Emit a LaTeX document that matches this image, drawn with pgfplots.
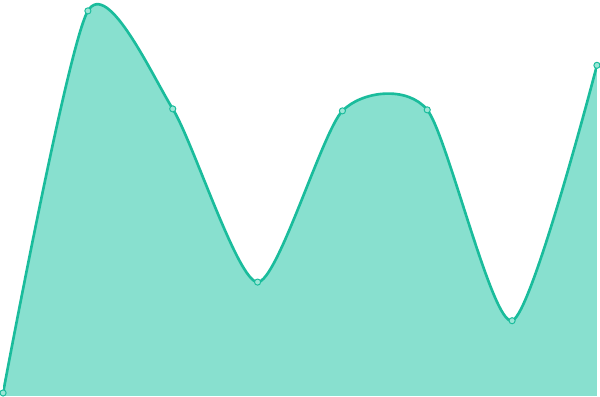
\documentclass[border=0pt]{standalone}
\usepackage{pgfplots}
\pgfplotsset{compat=1.18}
\definecolor{turq}{HTML}{1ABC9C}
\definecolor{turqfill}{HTML}{88E0CF}
\definecolor{turqmark}{HTML}{9BE6D6}
\begin{document}
\begin{tikzpicture}
\begin{axis}[
    width=15cm, height=10cm,
    scale only axis,
    hide axis,
    xmin=0, xmax=7,
    ymin=0, ymax=400,
]
\addplot[draw=none, fill=turqfill, smooth, tension=0.42, forget plot] coordinates {
    (0,3) (1,389) (2,290) (3,115) (4,288) (5,289) (6,76) (7,334)
} \closedcycle;
\addplot[turq, line width=1.9pt, smooth, tension=0.42,
    mark=*, mark size=2.2pt,
    mark options={fill=turqmark, draw=turq, line width=0.7pt}] coordinates {
    (0,3) (1,389) (2,290) (3,115) (4,288) (5,289) (6,76) (7,334)
};
\end{axis}
\end{tikzpicture}
\end{document}
